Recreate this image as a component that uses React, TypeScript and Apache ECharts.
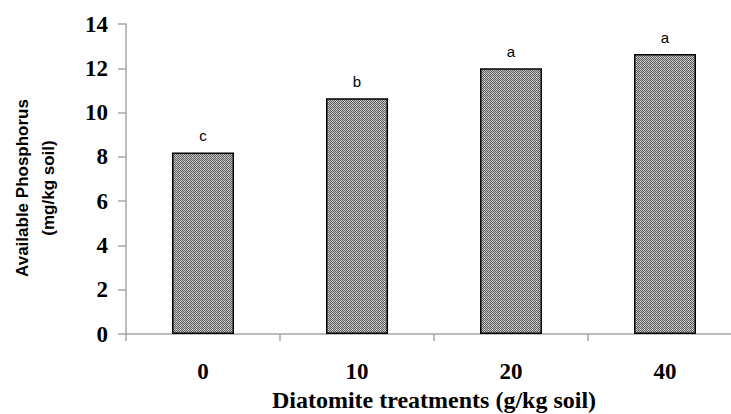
import React, { useEffect, useRef } from "react";
import * as echarts from "echarts";

const categories = ["0", "10", "20", "40"];
const values = [8.2, 10.65, 12.0, 12.65];
const letters = ["c", "b", "a", "a"];
const yTicks = { min: 0, max: 14, interval: 2 };

const SERIF = "'Liberation Serif', 'Times New Roman', serif";
const SANS = "'Liberation Sans', Arial, sans-serif";

function makePattern(): HTMLCanvasElement {
  const c = document.createElement("canvas");
  c.width = 4;
  c.height = 4;
  const ctx = c.getContext("2d")!;
  for (let y = 0; y < 4; y++) {
    for (let x = 0; x < 4; x++) {
      const dark = (x + y) % 2 === 0;
      ctx.fillStyle = dark ? "#5a5a5a" : "#c4c4c4";
      if (x === 0 && y === 1) ctx.fillStyle = "#f4f4f4";
      ctx.fillRect(x, y, 1, 1);
    }
  }
  return c;
}

export default function App() {
  const ref = useRef<HTMLDivElement>(null);
  useEffect(() => {
    if (!ref.current) return;
    const chart = echarts.init(ref.current, null, { renderer: "svg" });
    const pattern = makePattern();
    chart.setOption({
      animation: false,
      grid: { left: 126, top: 24, right: -11, bottom: 80, outerBoundsMode: "none", containLabel: false },
      xAxis: {
        type: "category",
        data: categories,
        axisLine: { lineStyle: { color: "#a6a6a6", width: 1.5 } },
        axisTick: { show: true, length: 7, lineStyle: { color: "#a6a6a6", width: 1.5 } },
        axisLabel: {
          margin: 26,
          color: "#000",
          fontFamily: SERIF,
          fontWeight: "bold",
          fontSize: 23,
        },
        name: "Diatomite treatments (g/kg soil)",
        nameLocation: "middle",
        nameGap: 53,
        nameTextStyle: {
          color: "#000",
          fontFamily: SERIF,
          fontWeight: "bold",
          fontSize: 24,
        },
      },
      yAxis: {
        type: "value",
        min: yTicks.min,
        max: yTicks.max,
        interval: yTicks.interval,
        splitLine: { show: false },
        axisLine: { show: true, lineStyle: { color: "#a6a6a6", width: 1.5 } },
        axisTick: { show: true, length: 8, lineStyle: { color: "#a6a6a6", width: 1.5 } },
        axisLabel: {
          margin: 18,
          color: "#000",
          fontFamily: SERIF,
          fontWeight: "bold",
          fontSize: 23,
        },
        name: "Available Phosphorus\n(mg/kg soil)",
        nameLocation: "middle",
        nameGap: 65,
        nameRotate: 90,
        nameTextStyle: {
          color: "#000",
          fontFamily: SANS,
          fontWeight: "bold",
          fontSize: 17,
          lineHeight: 26,
          padding: [0, 18, 0, 0],
        },
      },
      series: [
        {
          type: "bar",
          data: values,
          barWidth: 62,
          itemStyle: {
            color: { image: pattern, repeat: "repeat" },
            borderColor: "#000",
            borderWidth: 1.5,
          },
          label: {
            show: true,
            position: "top",
            distance: 9,
            color: "#000",
            fontFamily: SANS,
            fontSize: 15,
            formatter: (p: any) => letters[p.dataIndex],
          },
        },
      ],
    });
    return () => chart.dispose();
  }, []);
  return (
    <div
      ref={ref}
      style={{ position: "fixed", left: 0, top: 0, width: 731, height: 414, background: "#fff" }}
    />
  );
}
